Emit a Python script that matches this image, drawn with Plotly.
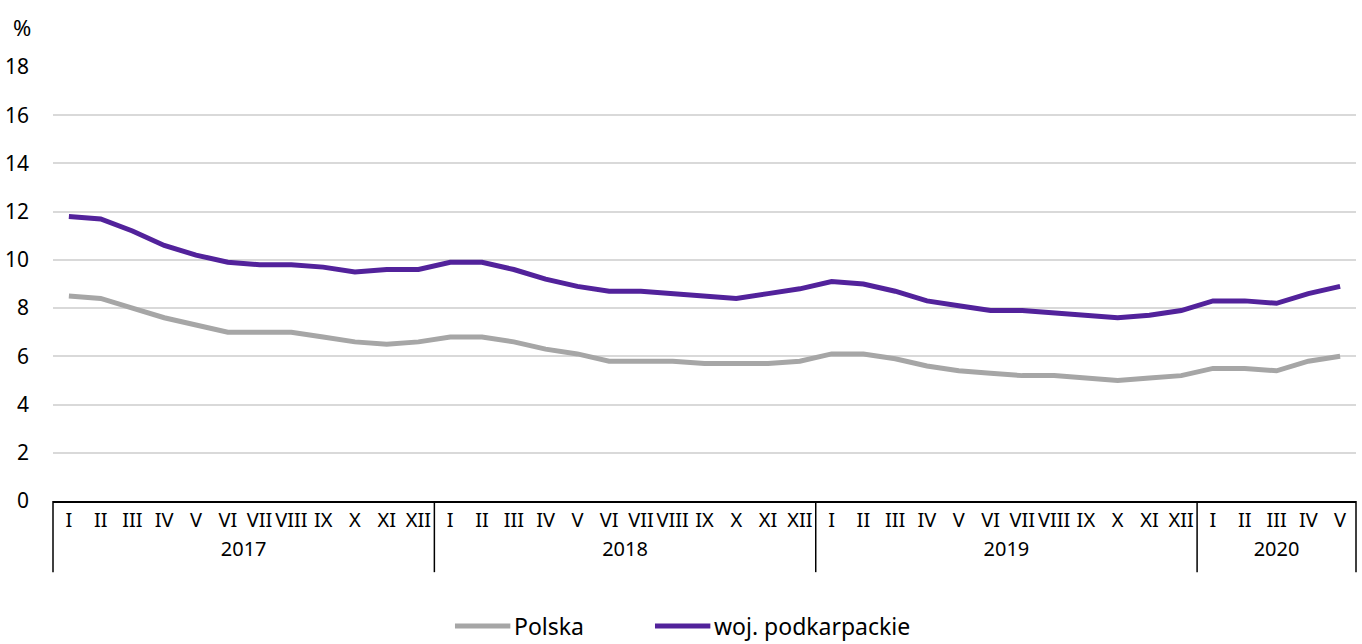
import plotly.graph_objects as go

years = ["2017"] * 12 + ["2018"] * 12 + ["2019"] * 12 + ["2020"] * 5
months_all = ["I", "II", "III", "IV", "V", "VI", "VII", "VIII", "IX", "X", "XI", "XII"]
months = months_all * 3 + months_all[:5]

polska = [8.5, 8.4, 8.0, 7.6, 7.3, 7.0, 7.0, 7.0, 6.8, 6.6, 6.5, 6.6,
          6.8, 6.8, 6.6, 6.3, 6.1, 5.8, 5.8, 5.8, 5.7, 5.7, 5.7, 5.8,
          6.1, 6.1, 5.9, 5.6, 5.4, 5.3, 5.2, 5.2, 5.1, 5.0, 5.1, 5.2,
          5.5, 5.5, 5.4, 5.8, 6.0]
podkarpackie = [11.8, 11.7, 11.2, 10.6, 10.2, 9.9, 9.8, 9.8, 9.7, 9.5, 9.6, 9.6,
                9.9, 9.9, 9.6, 9.2, 8.9, 8.7, 8.7, 8.6, 8.5, 8.4, 8.6, 8.8,
                9.1, 9.0, 8.7, 8.3, 8.1, 7.9, 7.9, 7.8, 7.7, 7.6, 7.7, 7.9,
                8.3, 8.3, 8.2, 8.6, 8.9]
y_ticks = [0, 2, 4, 6, 8, 10, 12, 14, 16, 18]
series_names = ["Polska", "woj. podkarpackie"]
series_colors = ["#A6A6A6", "#52229B"]

FONT = "Noto Sans, Open Sans, sans-serif"

fig = go.Figure()
for name, vals, col in zip(series_names, [polska, podkarpackie], series_colors):
    fig.add_trace(go.Scatter(x=[years, months], y=vals, name=name, mode="lines",
                             line=dict(color=col, width=5), showlegend=False))

n = len(months)
# year-group boundaries (as fractions of the axis) for divider lines
bounds = [0]
for i in range(1, n):
    if years[i] != years[i - 1]:
        bounds.append(i / n)
bounds.append(1)

shapes = [dict(type="line", xref="paper", yref="paper", x0=b, x1=b, y0=0, y1=-0.164,
               line=dict(color="#000000", width=1.5)) for b in bounds]

# custom legend (line sample + label) below the chart
legend_x0 = [0.3085, 0.4620]   # line start, paper fraction
legend_len = 0.0425
legend_y = -0.288
annotations = [dict(text="%", x=0, xref="paper", xanchor="center", xshift=-31,
                    y=1, yref="paper", yanchor="middle", yshift=40,
                    showarrow=False, font=dict(size=22))]
for name, col, x0 in zip(series_names, series_colors, legend_x0):
    shapes.append(dict(type="line", xref="paper", yref="paper", x0=x0, x1=x0 + legend_len,
                       y0=legend_y, y1=legend_y, line=dict(color=col, width=5)))
    annotations.append(dict(text=name, x=x0 + legend_len, xref="paper", xanchor="left",
                            xshift=2, y=legend_y, yref="paper", yanchor="middle",
                            showarrow=False, font=dict(size=23)))

fig.update_layout(
    width=1362, height=644,
    margin=dict(l=53, r=6, t=67, b=143),
    paper_bgcolor="white", plot_bgcolor="white",
    font=dict(family=FONT, size=20, color="#000000"),
    showlegend=False,
    annotations=annotations,
    shapes=shapes,
)
fig.update_yaxes(range=[0, 18], tickvals=y_ticks, showgrid=True, gridcolor="#D9D9D9",
                 gridwidth=1.5, zeroline=False, showline=False, ticks="",
                 ticklabelstandoff=23, tickfont=dict(size=21), automargin=False)
fig.update_xaxes(type="multicategory", range=[-0.5, n - 0.5], showline=True,
                 linecolor="#000000", linewidth=1.5, showdividers=False,
                 ticks="", showgrid=False, tickfont=dict(size=20), tickangle=0,
                 automargin=False)

fig.write_html("out.html", config={"displayModeBar": False},
               post_script="document.body.style.margin='0';")
